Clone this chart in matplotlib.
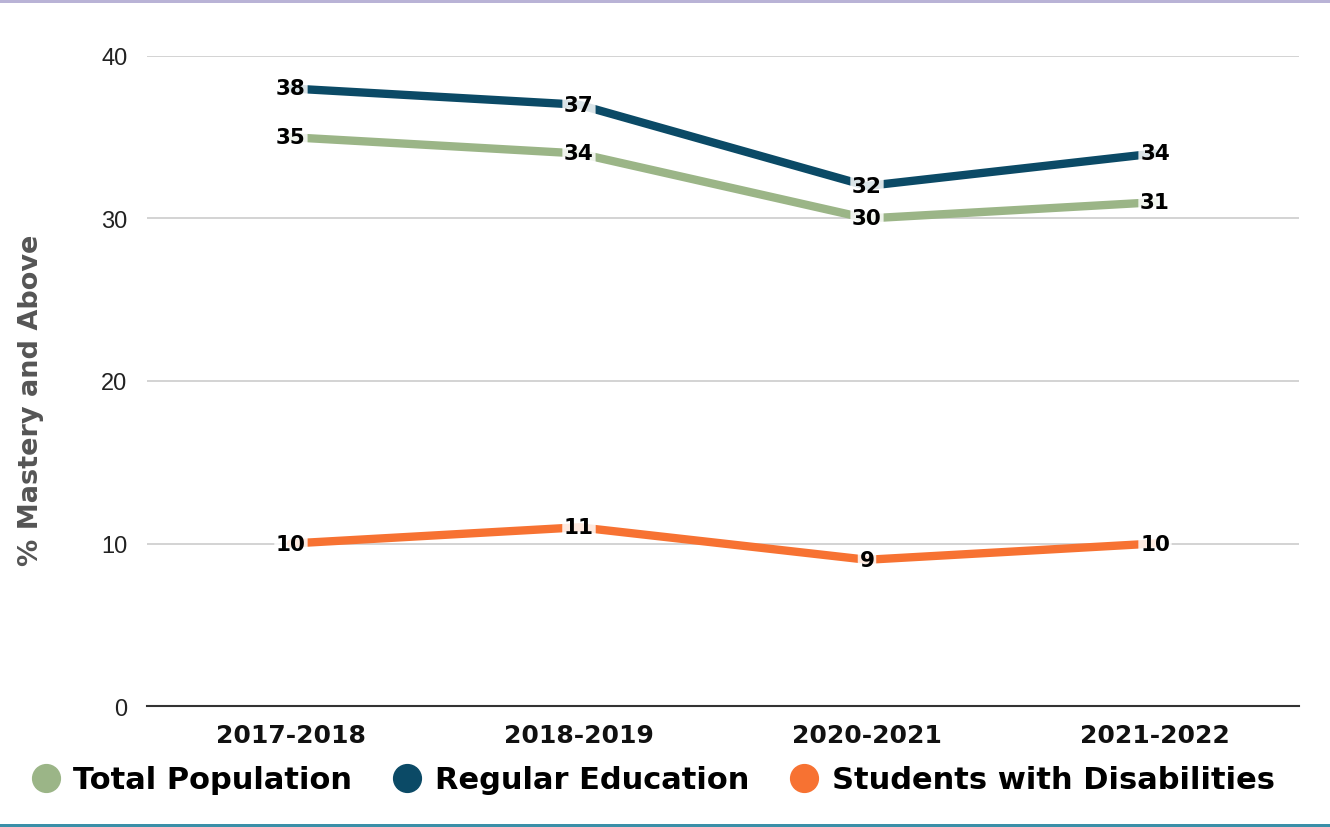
import matplotlib.pyplot as plt
from matplotlib.lines import Line2D
from matplotlib.patches import Rectangle

years = ["2017-2018", "2018-2019", "2020-2021", "2021-2022"]
total_pop = [35, 34, 30, 31]
regular_ed = [38, 37, 32, 34]
disabilities = [10, 11, 9, 10]

series = [
    ("Total Population", total_pop, "#9bb587"),
    ("Regular Education", regular_ed, "#0b4a66"),
    ("Students with Disabilities", disabilities, "#f77232"),
]

plt.rcParams['font.family'] = ['Liberation Sans', 'DejaVu Sans']
heavy = ['DejaVu Sans']

fig = plt.figure(figsize=(13.3, 8.28), dpi=100)
ax = fig.add_axes([0.1105, 0.1461, 0.8662, 0.7851])

x = range(len(years))
for name, vals, col in series:
    ax.plot(x, vals, color=col, linewidth=6, solid_capstyle='round', zorder=3)
    for xi, v in zip(x, vals):
        ax.text(xi, v, str(v), ha='center', va='center', fontsize=15.5, fontweight='bold',
                family=heavy, color='black', zorder=5,
                bbox=dict(boxstyle='round,pad=0.08', facecolor='white', edgecolor='none', alpha=0.85))

ax.set_xlim(-0.5, len(years) - 0.5)
ax.set_ylim(0, 40)
ax.set_yticks([0, 10, 20, 30, 40])
ax.set_xticks(list(x))
ax.set_xticklabels(years, fontsize=18, fontweight='bold', family=heavy)
ax.tick_params(axis='y', labelsize=17, length=0, pad=14, colors='#222222')
ax.tick_params(axis='x', length=0, pad=12, colors='#111111')
ax.grid(axis='y', color='#cccccc', linewidth=1.2)
ax.set_axisbelow(True)
for s in ['top', 'right', 'left']:
    ax.spines[s].set_visible(False)
ax.spines['bottom'].set_color('#333333')
ax.spines['bottom'].set_linewidth(1.5)

fig.text(0.023, 0.517, "% Mastery and Above", rotation=90, ha='center', va='center',
         fontsize=19.5, fontweight='bold', family=heavy, color='#555555')

handles = [Line2D([0], [0], marker='o', linestyle='none', markersize=20,
                  markerfacecolor=c, markeredgecolor=c) for _, _, c in series]
leg = fig.legend(handles, [n for n, _, _ in series], loc='center', bbox_to_anchor=(0.49, 0.057),
                 ncol=3, frameon=False, handletextpad=0.35, columnspacing=1.25, handlelength=1.1,
                 prop={'weight': 'bold', 'size': 22, 'family': heavy})

# thin decorative borders at top and bottom
fig.patches.append(Rectangle((0, 0.995), 1, 0.005, transform=fig.transFigure,
                             facecolor='#b9b3d6', edgecolor='none'))
fig.patches.append(Rectangle((0, 0), 1, 0.004, transform=fig.transFigure,
                             facecolor='#3a8fa8', edgecolor='none'))

plt.savefig("out.png", dpi=100)
